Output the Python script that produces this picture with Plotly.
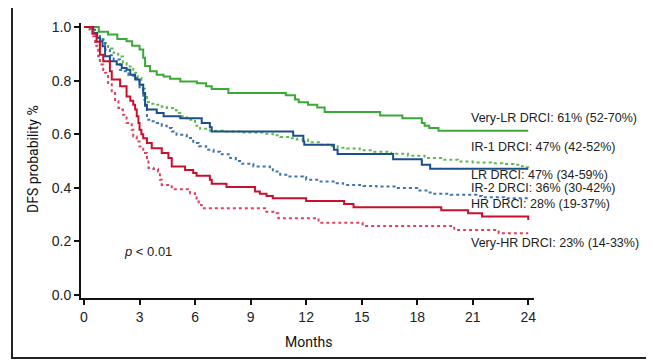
import plotly.graph_objects as go

# ---- data ----
very_lr_t = [0, 0.8, 1.3, 1.8, 2.3, 2.6, 3.0, 3.2, 3.3, 3.57, 3.93, 4.3, 4.65, 5.2, 6.1, 6.6, 6.9, 7.8,
             10.9, 11.4, 11.6, 12.1, 12.6, 13.0, 16.0, 17.2, 18.25, 18.4, 18.65, 19.15, 24]
very_lr_s = [1.0, 0.982, 0.972, 0.955, 0.947, 0.93, 0.916, 0.885, 0.855, 0.835, 0.822, 0.815, 0.807, 0.797,
             0.79, 0.779, 0.769, 0.754, 0.745, 0.73, 0.719, 0.71, 0.70, 0.683, 0.670, 0.66, 0.642, 0.632,
             0.623, 0.613, 0.613]

ir1_t = [0, 0.3, 0.5, 0.7, 0.86, 1.04, 1.3, 1.6, 1.85, 2.1, 2.3, 2.66, 2.9, 3.1, 3.2, 3.3, 3.4, 3.6, 3.9,
         4.2, 4.47, 4.9, 5.0, 5.2, 5.55, 6.0, 6.27, 6.8, 7.5, 8.5, 9.7, 10.2, 10.6, 11.1, 11.5, 12.1, 12.75,
         13.2, 13.7, 14.2, 14.9, 15.6, 16.6, 17.5, 18.4, 19.3, 20.2, 21.0, 22.0, 22.6, 23.2, 23.6, 23.8, 24]
ir1_s = [1.0, 0.99, 0.98, 0.965, 0.955, 0.94, 0.92, 0.904, 0.89, 0.866, 0.853, 0.829, 0.81, 0.785, 0.77,
         0.745, 0.72, 0.714, 0.71, 0.703, 0.698, 0.69, 0.679, 0.667, 0.654, 0.632, 0.62, 0.613, 0.61, 0.606,
         0.602, 0.596, 0.59, 0.585, 0.58, 0.57, 0.561, 0.555, 0.55, 0.547, 0.54, 0.535, 0.527, 0.52, 0.511,
         0.505, 0.498, 0.495, 0.492, 0.489, 0.486, 0.481, 0.477, 0.471]

lr_t = [0, 0.5, 0.7, 0.86, 1.0, 1.14, 1.4, 1.77, 2.04, 2.3, 2.5, 2.76, 3.0, 3.2, 3.3, 3.4, 3.93, 4.3, 5.2,
        6.36, 6.8, 6.9, 11.3, 11.85, 11.9, 13.5, 13.7, 16.7, 18.25, 18.7, 24]
lr_s = [1.0, 0.978, 0.96, 0.947, 0.928, 0.891, 0.872, 0.86, 0.847, 0.841, 0.822, 0.804, 0.785, 0.754,
        0.71, 0.692, 0.679, 0.667, 0.66, 0.642, 0.626, 0.61, 0.594, 0.573, 0.561, 0.542, 0.526, 0.507,
        0.486, 0.471, 0.471]

ir2_t = [0, 0.4, 0.6, 0.86, 1.14, 1.4, 1.6, 1.95, 2.1, 2.4, 2.66, 3.0, 3.2, 3.3, 3.4, 3.6, 3.93, 4.2, 4.47,
         4.75, 5.0, 5.55, 5.9, 6.2, 6.6, 7.0, 7.35, 7.9, 8.2, 8.43, 9.15, 10.05, 10.2, 10.6, 11.1, 11.85,
         12.0, 12.67, 13.65, 14.0, 15.1, 15.8, 16.9, 18.0, 18.5, 18.8, 19.8, 21.2, 21.5, 22.7, 24]
ir2_s = [1.0, 0.99, 0.975, 0.953, 0.916, 0.895, 0.879, 0.84, 0.835, 0.82, 0.81, 0.775, 0.729, 0.695, 0.654,
         0.648, 0.642, 0.632, 0.623, 0.61, 0.598, 0.586, 0.567, 0.555, 0.542, 0.535, 0.525, 0.511, 0.5,
         0.49, 0.48, 0.477, 0.461, 0.449, 0.442, 0.44, 0.43, 0.424, 0.417, 0.411, 0.407, 0.405, 0.399,
         0.39, 0.383, 0.378, 0.374, 0.37, 0.365, 0.361, 0.361]

hr_t = [0, 0.45, 0.68, 0.86, 1.04, 1.4, 1.5, 1.95, 2.3, 2.5, 2.66, 2.76, 2.85, 2.94, 3.0, 3.1, 3.2, 3.4,
        3.66, 4.2, 4.56, 4.74, 5.46, 5.9, 6.08, 6.8, 6.9, 7.7, 9.24, 9.5, 9.86, 10.2, 12.0, 14.05, 14.56,
        19.3, 20.75, 21.5, 24]
hr_s = [1.0, 0.975, 0.945, 0.897, 0.872, 0.835, 0.804, 0.779, 0.741, 0.725, 0.71, 0.692, 0.667, 0.642,
        0.617, 0.6, 0.585, 0.567, 0.548, 0.53, 0.511, 0.48, 0.467, 0.455, 0.445, 0.43, 0.415, 0.403, 0.386,
        0.378, 0.37, 0.361, 0.351, 0.34, 0.328, 0.316, 0.305, 0.293, 0.28]

very_hr_t = [0, 0.32, 0.5, 0.6, 0.77, 0.86, 1.04, 1.14, 1.3, 1.5, 1.68, 1.86, 1.95, 2.1, 2.3, 2.58, 2.66,
             2.85, 3.0, 3.2, 3.4, 3.48, 3.75, 4.0, 4.1, 4.2, 4.74, 5.73, 6.0, 6.08, 6.2, 6.36, 9.78, 10.3,
             10.5, 12.67, 15.05, 20.0, 22.4, 24]
very_hr_s = [1.0, 0.985, 0.966, 0.93, 0.891, 0.86, 0.84, 0.829, 0.791, 0.754, 0.723, 0.698, 0.692, 0.673,
             0.642, 0.617, 0.592, 0.573, 0.554, 0.53, 0.505, 0.474, 0.47, 0.461, 0.43, 0.411, 0.395, 0.38,
             0.368, 0.349, 0.336, 0.324, 0.311, 0.305, 0.287, 0.27, 0.258, 0.243, 0.231, 0.231]

x_ticks = [0, 3, 6, 9, 12, 15, 18, 21, 24]
y_ticks = [0.0, 0.2, 0.4, 0.6, 0.8, 1.0]
y_tick_labels = ["0.0", "0.2", "0.4", "0.6", "0.8", "1.0"]

labels = [
    ("Very-LR DRCI: 61% (52-70%)", 0.662),
    ("IR-1 DRCI: 47% (42-52%)", 0.554),
    ("LR DRCI: 47% (34-59%)", 0.449),
    ("IR-2 DRCI: 36% (30-42%)", 0.399),
    ("HR DRCI: 28% (19-37%)", 0.339),
    ("Very-HR DRCI: 23% (14-33%)", 0.193),
]

# ---- styles ----
series = [
    (very_lr_t, very_lr_s, "#3aa935", "solid"),
    (ir1_t, ir1_s, "#5dbb4c", "dot"),
    (ir2_t, ir2_s, "#3f74b3", "dot"),
    (lr_t, lr_s, "#1c4f8a", "solid"),
    (very_hr_t, very_hr_s, "#e0415e", "dot"),
    (hr_t, hr_s, "#c8102e", "solid"),
]

fig = go.Figure()
for t, s, c, d in series:
    fig.add_trace(go.Scatter(x=t, y=s, mode="lines", line=dict(color=c, width=2, dash=d, shape="hv"),
                             showlegend=False, hoverinfo="skip"))

OFF = 8  # page body margin
W, H = 654, 360
ML, MT = 81 - OFF, 23 - OFF
pw, ph = 453, 275
MR, MB = W - ML - pw, H - MT - ph


def px_x(p):
    return (p - OFF - ML) / pw


def px_y(p):
    return (MT + ph - (p - OFF)) / ph


tickfont = dict(family="Liberation Sans, Arial, sans-serif", size=14, color="#222")
fig.update_layout(
    width=W, height=H,
    margin=dict(l=ML, r=MR, t=MT, b=MB, autoexpand=False),
    paper_bgcolor="white", plot_bgcolor="white",
    xaxis=dict(range=[-0.162, 24.31], tickvals=x_ticks, showgrid=False, zeroline=False,
               showline=True, linecolor="#111", linewidth=2, ticks="outside", ticklen=5,
               tickwidth=1.5, tickcolor="#111", tickfont=tickfont),
    yaxis=dict(range=[-0.011, 1.015], tickvals=y_ticks, ticktext=y_tick_labels, showgrid=False,
               zeroline=False, showline=True, linecolor="#111", linewidth=2, ticks="outside",
               ticklen=5, tickwidth=1.5, tickcolor="#111", tickfont=tickfont),
)

annfont = dict(family="Liberation Sans, Arial, sans-serif", size=12.5, color="#222")
for txt, yv in labels:
    fig.add_annotation(x=20.8, y=yv, xref="x", yref="y", text=txt, showarrow=False,
                       xanchor="left", yanchor="middle", font=annfont)

fig.add_annotation(x=2.04, y=0.164, xref="x", yref="y", text="<i>p</i> &lt; 0.01", showarrow=False,
                   xanchor="left", yanchor="middle",
                   font=dict(family="Liberation Sans, Arial, sans-serif", size=13, color="#222"))

condfont = dict(family="Roboto, Liberation Sans, sans-serif", size=14, color="#111")
fig.add_annotation(x=px_x(308), y=px_y(342), xref="paper", yref="paper",
                   text="Months", showarrow=False,
                   xanchor="center", yanchor="middle", font=condfont)
fig.add_annotation(x=px_x(33), y=px_y(159), xref="paper", yref="paper",
                   text="DFS probability %", textangle=-90,
                   showarrow=False, xanchor="center", yanchor="middle", font=condfont)

# outer frame
fig.add_shape(type="rect", xref="paper", yref="paper",
              x0=px_x(12), x1=px_x(649), y0=px_y(358), y1=px_y(7),
              line=dict(color="#222", width=2), fillcolor="rgba(0,0,0,0)", layer="below")

fig.write_html("out.html")
